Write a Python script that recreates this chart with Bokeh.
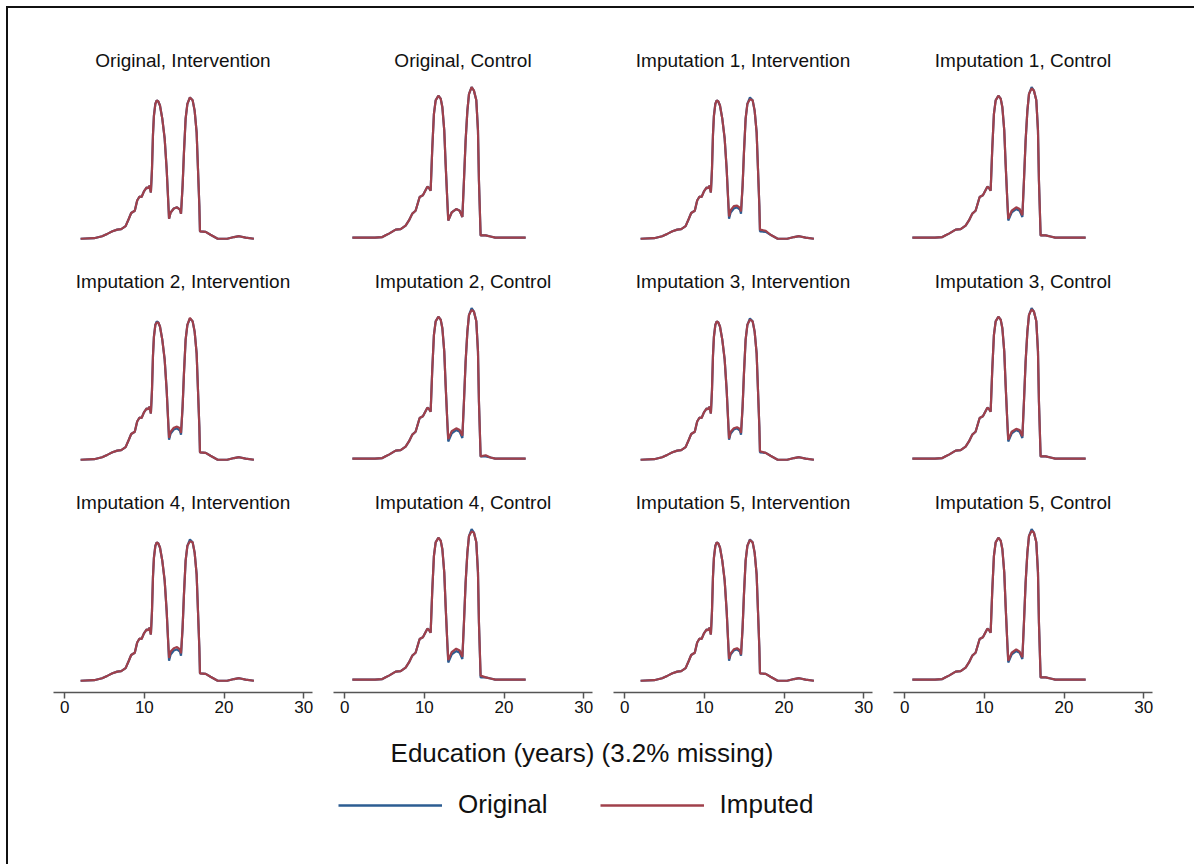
from bokeh.plotting import figure
from bokeh.layouts import gridplot, column
from bokeh.models import Legend, LegendItem, Label, FixedTicker, Range1d
from bokeh.embed import file_html
from bokeh.resources import INLINE

# ---------------- data ----------------
x_ticks = [0, 10, 20, 30]
x_label = "Education (years) (3.2% missing)"
legend_labels = ["Original", "Imputed"]

# Intervention group: density grid
x_int = [2.0, 3.7, 4.7, 5.4, 6.0, 6.6, 7.1, 7.65, 8.05, 8.35,
         8.8, 9.1, 9.4, 9.65, 9.95, 10.3, 10.5, 10.65, 10.82, 10.96,
         11.08, 11.2, 11.38, 11.55, 11.75, 11.96, 12.25, 12.55, 12.8, 12.96,
         13.1, 13.3, 13.7, 14.1, 14.47, 14.6, 14.8, 14.97, 15.18, 15.4,
         15.72, 16.06, 16.31, 16.56, 16.73, 16.9, 16.98, 17.7, 18.3, 19.2,
         20.4, 21.25, 21.9, 22.7, 23.75]
orig_int = [0.003, 0.004, 0.0075, 0.012, 0.016, 0.019, 0.020, 0.025, 0.038, 0.048,
            0.052, 0.070, 0.077, 0.076, 0.086, 0.093, 0.091, 0.096, 0.084, 0.125,
            0.184, 0.218, 0.239, 0.245, 0.243, 0.236, 0.213, 0.178, 0.125, 0.079,
            0.038, 0.049, 0.056, 0.058, 0.054, 0.047, 0.096, 0.154, 0.213, 0.239,
            0.250, 0.245, 0.227, 0.189, 0.125, 0.061, 0.016, 0.015, 0.010, 0.003,
            0.003, 0.006, 0.0075, 0.005, 0.003]
imp1_int = [0.003, 0.004, 0.0075, 0.012, 0.016, 0.019, 0.020, 0.025, 0.038, 0.048,
            0.052, 0.070, 0.077, 0.076, 0.086, 0.093, 0.091, 0.096, 0.084, 0.125,
            0.184, 0.218, 0.239, 0.245, 0.243, 0.236, 0.213, 0.178, 0.125, 0.079,
            0.042, 0.053, 0.060, 0.061, 0.057, 0.051, 0.096, 0.154, 0.213, 0.239,
            0.247, 0.245, 0.227, 0.189, 0.125, 0.061, 0.019, 0.017, 0.010, 0.003,
            0.003, 0.006, 0.0075, 0.005, 0.003]
imp2_int = [0.003, 0.004, 0.0075, 0.012, 0.016, 0.019, 0.020, 0.025, 0.038, 0.048,
            0.052, 0.070, 0.077, 0.076, 0.086, 0.093, 0.091, 0.096, 0.084, 0.125,
            0.184, 0.218, 0.239, 0.243, 0.243, 0.236, 0.213, 0.178, 0.125, 0.079,
            0.041, 0.052, 0.059, 0.061, 0.058, 0.050, 0.096, 0.154, 0.213, 0.239,
            0.251, 0.245, 0.227, 0.189, 0.125, 0.061, 0.016, 0.015, 0.010, 0.003,
            0.003, 0.006, 0.0075, 0.005, 0.003]
imp3_int = [0.003, 0.004, 0.0075, 0.012, 0.016, 0.019, 0.020, 0.025, 0.038, 0.048,
            0.052, 0.070, 0.077, 0.076, 0.086, 0.093, 0.091, 0.096, 0.084, 0.125,
            0.184, 0.218, 0.239, 0.245, 0.243, 0.236, 0.213, 0.178, 0.125, 0.079,
            0.040, 0.052, 0.058, 0.060, 0.057, 0.050, 0.096, 0.154, 0.213, 0.239,
            0.248, 0.245, 0.227, 0.189, 0.125, 0.061, 0.018, 0.015, 0.010, 0.003,
            0.003, 0.006, 0.0075, 0.005, 0.003]
imp4_int = [0.003, 0.004, 0.0075, 0.012, 0.016, 0.019, 0.020, 0.025, 0.038, 0.048,
            0.052, 0.070, 0.077, 0.076, 0.086, 0.093, 0.091, 0.096, 0.084, 0.125,
            0.184, 0.218, 0.239, 0.245, 0.243, 0.236, 0.213, 0.178, 0.125, 0.079,
            0.043, 0.054, 0.060, 0.062, 0.058, 0.051, 0.096, 0.154, 0.213, 0.239,
            0.247, 0.245, 0.227, 0.189, 0.125, 0.061, 0.016, 0.015, 0.010, 0.003,
            0.003, 0.006, 0.0075, 0.005, 0.003]
imp5_int = [0.003, 0.004, 0.0075, 0.012, 0.016, 0.019, 0.020, 0.025, 0.038, 0.048,
            0.052, 0.070, 0.077, 0.076, 0.086, 0.093, 0.091, 0.096, 0.084, 0.125,
            0.184, 0.218, 0.239, 0.245, 0.243, 0.236, 0.213, 0.178, 0.125, 0.079,
            0.041, 0.051, 0.058, 0.060, 0.056, 0.049, 0.096, 0.154, 0.213, 0.239,
            0.249, 0.245, 0.227, 0.189, 0.125, 0.061, 0.016, 0.015, 0.010, 0.003,
            0.003, 0.006, 0.0075, 0.005, 0.003]

# Control group: density grid
x_ctl = [0.97, 2.5, 3.8, 4.73, 5.14, 5.56, 6.4, 7.03, 7.65, 8.07,
         8.49, 8.9, 9.41, 9.82, 10.38, 10.58, 10.79, 11.0, 11.2, 11.42,
         11.76, 12.05, 12.26, 12.5, 12.67, 12.88, 13.0, 13.43, 14.0, 14.43,
         14.77, 14.97, 15.18, 15.4, 15.6, 15.93, 16.22, 16.52, 16.73, 16.85,
         17.06, 17.69, 18.3, 18.9, 22.71]
orig_ctl = [0.005, 0.005, 0.005, 0.006, 0.009, 0.012, 0.019, 0.020, 0.026, 0.035,
            0.047, 0.052, 0.076, 0.079, 0.094, 0.092, 0.087, 0.163, 0.221, 0.245,
            0.253, 0.248, 0.233, 0.192, 0.134, 0.070, 0.035, 0.049, 0.055, 0.052,
            0.041, 0.105, 0.175, 0.227, 0.256, 0.268, 0.262, 0.245, 0.192, 0.105,
            0.009, 0.009, 0.007, 0.005, 0.005]
imp1_ctl = [0.005, 0.005, 0.005, 0.006, 0.009, 0.012, 0.019, 0.020, 0.026, 0.035,
            0.047, 0.052, 0.076, 0.079, 0.094, 0.092, 0.087, 0.163, 0.221, 0.245,
            0.253, 0.248, 0.233, 0.192, 0.134, 0.070, 0.038, 0.052, 0.058, 0.055,
            0.044, 0.105, 0.175, 0.227, 0.256, 0.266, 0.262, 0.245, 0.192, 0.105,
            0.009, 0.009, 0.007, 0.005, 0.005]
imp2_ctl = [0.005, 0.005, 0.005, 0.006, 0.009, 0.012, 0.019, 0.020, 0.026, 0.035,
            0.047, 0.052, 0.076, 0.079, 0.094, 0.092, 0.087, 0.163, 0.221, 0.245,
            0.253, 0.248, 0.233, 0.192, 0.134, 0.070, 0.039, 0.053, 0.058, 0.055,
            0.045, 0.105, 0.175, 0.227, 0.256, 0.265, 0.262, 0.245, 0.192, 0.105,
            0.009, 0.011, 0.007, 0.005, 0.005]
imp3_ctl = [0.005, 0.005, 0.005, 0.006, 0.009, 0.012, 0.019, 0.020, 0.026, 0.035,
            0.047, 0.052, 0.076, 0.079, 0.094, 0.092, 0.087, 0.163, 0.221, 0.245,
            0.253, 0.248, 0.233, 0.192, 0.134, 0.070, 0.038, 0.052, 0.057, 0.055,
            0.044, 0.105, 0.175, 0.227, 0.256, 0.266, 0.262, 0.245, 0.192, 0.105,
            0.009, 0.009, 0.007, 0.005, 0.005]
imp4_ctl = [0.005, 0.005, 0.005, 0.006, 0.009, 0.012, 0.019, 0.020, 0.026, 0.035,
            0.047, 0.052, 0.076, 0.079, 0.094, 0.092, 0.087, 0.163, 0.221, 0.245,
            0.253, 0.248, 0.233, 0.192, 0.134, 0.070, 0.039, 0.053, 0.059, 0.056,
            0.045, 0.105, 0.175, 0.227, 0.256, 0.264, 0.262, 0.245, 0.192, 0.105,
            0.012, 0.009, 0.007, 0.005, 0.005]
imp5_ctl = [0.005, 0.005, 0.005, 0.006, 0.009, 0.012, 0.019, 0.020, 0.026, 0.035,
            0.047, 0.052, 0.076, 0.079, 0.094, 0.092, 0.087, 0.163, 0.221, 0.245,
            0.253, 0.248, 0.233, 0.192, 0.134, 0.070, 0.038, 0.052, 0.058, 0.054,
            0.044, 0.105, 0.175, 0.227, 0.256, 0.265, 0.262, 0.245, 0.192, 0.105,
            0.009, 0.009, 0.007, 0.005, 0.005]

panel_titles = ["Original, Intervention", "Original, Control",
                "Imputation 1, Intervention", "Imputation 1, Control",
                "Imputation 2, Intervention", "Imputation 2, Control",
                "Imputation 3, Intervention", "Imputation 3, Control",
                "Imputation 4, Intervention", "Imputation 4, Control",
                "Imputation 5, Intervention", "Imputation 5, Control"]
panel_data = [(x_int, orig_int, orig_int), (x_ctl, orig_ctl, orig_ctl),
              (x_int, orig_int, imp1_int), (x_ctl, orig_ctl, imp1_ctl),
              (x_int, orig_int, imp2_int), (x_ctl, orig_ctl, imp2_ctl),
              (x_int, orig_int, imp3_int), (x_ctl, orig_ctl, imp3_ctl),
              (x_int, orig_int, imp4_int), (x_ctl, orig_ctl, imp4_ctl),
              (x_int, orig_int, imp5_int), (x_ctl, orig_ctl, imp5_ctl)]

# ---------------- styling ----------------
FONT = "Liberation Sans"
BLUE = "#2c5d92"
RED = "#a0404b"
AXIS = "#555555"

panels = []
for i, (title, (xs, yo, yi)) in enumerate(zip(panel_titles, panel_data)):
    row, col = divmod(i, 4)
    left = 45 if col == 0 else 11
    top = 62 if row == 0 else 30
    bottom = 38 if row == 2 else 11
    p = figure(width=left + 259 + 10, height=top + 180 + bottom,
               x_range=Range1d(-1.4, 31.1), y_range=Range1d(-0.0175, 0.2972),
               x_axis_type="linear" if row == 2 else None, y_axis_type=None,
               min_border_left=left, min_border_right=10,
               min_border_top=top, min_border_bottom=bottom,
               output_backend="svg", toolbar_location=None,
               outline_line_color=None, title=title)
    p.title.text_font = FONT
    p.title.text_font_size = "19px"
    p.title.text_font_style = "normal"
    p.title.text_color = "#111111"
    p.title.align = "center"
    p.title.standoff = 0
    p.line(xs, yo, color=BLUE, line_width=2.2)
    p.line(xs, yi, color=RED, line_width=2.2)
    if row == 2:
        ax = p.xaxis[0]
        ax.ticker = FixedTicker(ticks=x_ticks)
        ax.axis_line_color = AXIS
        ax.axis_line_width = 1.5
        ax.major_tick_line_color = AXIS
        ax.major_tick_line_width = 1.5
        ax.major_tick_out = 6
        ax.major_tick_in = 0
        ax.minor_tick_line_color = None
        ax.major_label_text_font = FONT
        ax.major_label_text_font_size = "17px"
        ax.major_label_text_color = "#111111"
        ax.major_label_standoff = 2
        p.xgrid.visible = False
    panels.append(p)

grid = gridplot(panels, ncols=4, toolbar_location=None)

# legend / shared axis title strip; legend proxies use the data but sit outside the visible range
bottom_fig = figure(width=1186, height=134, x_range=Range1d(100, 101), y_range=Range1d(100, 101),
                    x_axis_type=None, y_axis_type=None, outline_line_color=None,
                    min_border=0, output_backend="svg", toolbar_location=None)
r_orig = bottom_fig.line(x_int, orig_int, color=BLUE, line_width=2.5)
r_imp = bottom_fig.line(x_int, orig_int, color=RED, line_width=2.5)
legend = Legend(items=[LegendItem(label=legend_labels[0], renderers=[r_orig]),
                       LegendItem(label=legend_labels[1], renderers=[r_imp])],
                orientation="horizontal", location=(330, 44),
                glyph_width=104, glyph_height=30, label_standoff=16, spacing=52,
                label_text_font=FONT, label_text_font_size="26px",
                label_text_color="#111111", label_height=30,
                border_line_color=None, background_fill_alpha=0,
                padding=0, margin=0)
bottom_fig.add_layout(legend, "center")
bottom_fig.add_layout(Label(x=573.5, y=112, x_units="screen", y_units="screen",
                            text=x_label, text_align="center", text_baseline="middle",
                            text_font=FONT, text_font_size="26px",
                            text_color="#111111"))

layout = column(grid, bottom_fig, margin=(6, 0, 0, 6),
                styles={"border-left": "2px solid #111111", "border-top": "2px solid #111111"})

open("out.html", "w").write(file_html(layout, INLINE))
